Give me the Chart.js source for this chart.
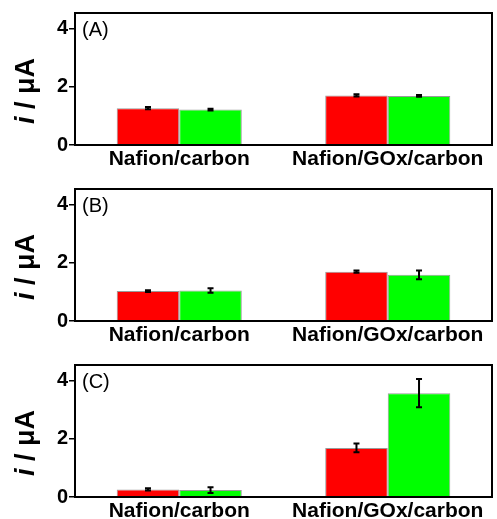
<!DOCTYPE html>
<html>
<head>
<meta charset="utf-8">
<script src="https://cdn.jsdelivr.net/npm/chart.js@4.4.0/dist/chart.umd.min.js"></script>
<style>
  html, body { margin: 0; padding: 0; background: #fff; overflow: hidden; }
  .panel { position: absolute; left: 0; width: 497px; height: 167px; }
</style>
</head>
<body>
<div class="panel" style="top:0px"><canvas id="chartA" width="497" height="167"></canvas></div>
<div class="panel" style="top:176px"><canvas id="chartB" width="497" height="167"></canvas></div>
<div class="panel" style="top:352px"><canvas id="chartC" width="497" height="167"></canvas></div>
<script>
'use strict';

// categories and values (i / uA)
var categories = ['Nafion/carbon', 'Nafion/GOx/carbon'];
var yTicks = [0, 2, 4];

var redA = [1.27, 1.71];
var redAErr = [0.04, 0.04];
var greenA = [1.22, 1.69];
var greenAErr = [0.03, 0.03];

var redB = [1.03, 1.70];
var redBErr = [0.03, 0.04];
var greenB = [1.05, 1.59];
var greenBErr = [0.08, 0.15];

var redC = [0.26, 1.69];
var redCErr = [0.04, 0.15];
var greenC = [0.24, 3.58];
var greenCErr = [0.1, 0.49];

// frame around the plot area, panel letter and y title
var framePlugin = {
    id: 'frame',
    afterDraw: function (chart) {
        var ctx = chart.ctx;
        var a = chart.chartArea;
        ctx.save();
        ctx.strokeStyle = '#000';
        ctx.lineWidth = 2;
        ctx.strokeRect(a.left, a.top, a.right - a.left, a.bottom - a.top);

        ctx.fillStyle = '#000';
        ctx.font = '20px "Liberation Sans", Arial, sans-serif';
        ctx.textBaseline = 'alphabetic';
        ctx.textAlign = 'left';
        ctx.fillText(chart.options.plugins.frame.letter, a.left + 7, a.top + 23);

        // y title: italic i / uA, rotated
        ctx.translate(27, a.top + 78);
        ctx.rotate(-Math.PI / 2);
        var f1 = 'italic bold 27px "Liberation Sans", Arial, sans-serif';
        var f2 = 'bold 27px "Liberation Sans", Arial, sans-serif';
        ctx.font = f1;
        var w1 = ctx.measureText('i').width;
        ctx.font = f2;
        var w2 = ctx.measureText(' / \u03bcA').width;
        var x0 = -(w1 + w2) / 2;
        ctx.textBaseline = 'middle';
        ctx.font = f1;
        ctx.fillText('i', x0, 0);
        ctx.font = f2;
        ctx.fillText(' / \u03bcA', x0 + w1, 0);
        ctx.restore();
    }
};

var errorBarPlugin = {
    id: 'errorBars',
    afterDatasetsDraw: function (chart) {
        var ctx = chart.ctx;
        var yScale = chart.scales.y;
        ctx.save();
        ctx.strokeStyle = '#000';
        ctx.lineWidth = 2;
        chart.data.datasets.forEach(function (ds, di) {
            var meta = chart.getDatasetMeta(di);
            meta.data.forEach(function (bar, i) {
                var v = ds.data[i], e = ds.errors[i];
                var yTop = yScale.getPixelForValue(v + e);
                var yBot = yScale.getPixelForValue(v - e);
                ctx.beginPath();
                ctx.moveTo(bar.x, yTop);
                ctx.lineTo(bar.x, yBot);
                ctx.moveTo(bar.x - 3, yTop);
                ctx.lineTo(bar.x + 3, yTop);
                ctx.moveTo(bar.x - 3, yBot);
                ctx.lineTo(bar.x + 3, yBot);
                ctx.stroke();
            });
        });
        ctx.restore();
    }
};

function makePanel(id, letter, red, redErr, green, greenErr) {
    return new Chart(document.getElementById(id), {
        type: 'bar',
        data: {
            labels: categories,
            datasets: [{
                data: red,
                errors: redErr,
                backgroundColor: '#ff0000',
                borderColor: '#9a9a9a',
                borderWidth: 1
            }, {
                data: green,
                errors: greenErr,
                backgroundColor: '#00ff00',
                borderColor: '#9a9a9a',
                borderWidth: 1
            }]
        },
        options: {
            responsive: false,
            animation: false,
            layout: { padding: { top: 12, right: 5, left: 0, bottom: 0 } },
            datasets: { bar: { categoryPercentage: 0.6, barPercentage: 1 } },
            plugins: {
                legend: { display: false },
                tooltip: { enabled: false },
                frame: { letter: letter }
            },
            scales: {
                x: {
                    grid: { display: false, drawTicks: false },
                    border: { display: false },
                    ticks: {
                        padding: 2,
                        color: '#000',
                        maxRotation: 0,
                        font: { family: '"Liberation Sans", Arial, sans-serif', size: 21, weight: 'bold' }
                    },
                    afterFit: function (s) { s.height = 22; }
                },
                y: {
                    min: 0,
                    max: 4.55,
                    grid: { drawOnChartArea: false, tickLength: 6, color: '#000', lineWidth: 1.5 },
                    border: { display: false },
                    afterBuildTicks: function (s) {
                        s.ticks = yTicks.map(function (v) { return { value: v }; });
                    },
                    ticks: {
                        padding: 1,
                        color: '#000',
                        font: { family: '"Liberation Sans", Arial, sans-serif', size: 20, weight: 'bold' }
                    },
                    afterFit: function (s) { s.width = 75; }
                }
            }
        },
        plugins: [framePlugin, errorBarPlugin]
    });
}

makePanel('chartA', '(A)', redA, redAErr, greenA, greenAErr);
makePanel('chartB', '(B)', redB, redBErr, greenB, greenBErr);
makePanel('chartC', '(C)', redC, redCErr, greenC, greenCErr);
</script>
</body>
</html>
